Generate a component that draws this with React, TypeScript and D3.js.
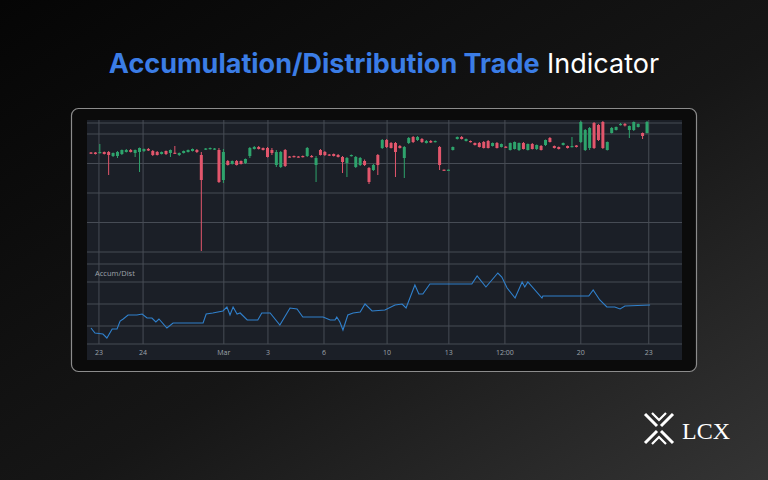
import * as d3 from 'd3'

// candles: open, high, low, close (arbitrary price units)
const candles: [number, number, number, number][] = [
  [99.5, 100, 98, 98.5], [99.5, 100, 97.5, 98], [99, 108, 98.5, 100], [100, 100.5, 97.5, 98],
  [100, 101, 77, 97], [96, 99.5, 95, 99], [96, 101, 94, 100], [98, 102.5, 97, 102],
  [100, 103, 99.5, 102], [102, 103, 99.5, 100], [99, 102.5, 95, 102], [100, 104.5, 80, 104],
  [101, 103.5, 100, 103], [103, 104, 101, 101.5], [101, 102, 96, 97], [100, 101, 96.5, 97],
  [98, 100.5, 97.5, 100], [101, 101.5, 97, 98], [99, 102.5, 95, 102], [99.3, 106, 98, 98.7],
  [97, 99.5, 96, 99], [99, 101.5, 98.5, 101], [100, 102.5, 99.5, 102], [101, 103.5, 100.5, 103],
  [102, 103, 99, 100], [97, 100, 1, 72], [102.5, 104, 102, 103.5], [103, 104.5, 102.5, 104],
  [102.5, 104, 102, 103.5], [102, 104, 69, 70], [72, 103, 69, 100], [91, 92, 86.5, 87],
  [88, 91.5, 87.5, 91], [91, 92, 86.5, 87], [91, 91.5, 87.5, 88], [89, 93.5, 88, 93],
  [96, 105, 94, 104], [103, 106, 102.5, 105], [105, 106, 102.5, 103], [104, 104.5, 101.5, 102],
  [104, 105, 94.5, 95], [102, 104, 97, 99], [87, 102, 85, 100], [85, 101, 84, 100],
  [102, 103, 85, 86], [95.5, 96, 94.5, 95], [96, 96.5, 94.5, 95], [95.5, 96, 94.5, 95],
  [96, 96.5, 94.5, 95], [96, 105, 95, 104], [96, 97, 94.5, 95], [87, 96, 70, 94],
  [102, 103, 96.5, 97], [100, 101, 96, 97], [97.5, 98, 96, 96.5], [98, 98.5, 95.5, 96],
  [97, 98, 94.5, 95], [95, 96, 79, 90], [89, 95, 75, 94], [96, 97.5, 95.5, 97],
  [85, 96, 84, 95], [87, 95, 86, 94], [91, 92.5, 86, 87], [84, 85, 68, 70],
  [82, 88, 81, 87], [97, 98, 77, 87], [104, 113, 103, 112], [112, 113, 104, 105],
  [109, 110, 103.5, 104], [109, 110, 75, 100], [106, 107, 103.5, 104], [94, 106, 74, 105],
  [109, 115, 108, 114], [115, 116, 109, 110], [112, 116, 111, 115], [113, 114, 109, 110],
  [109, 112, 108.5, 111], [111, 112, 109, 109.5], [110, 111.5, 109.5, 111], [105, 106, 82, 87],
  [82.3, 82.5, 81.5, 82], [82, 82.5, 81.5, 82.3], [102, 105.5, 101.5, 105], [113, 115.5, 112.5, 115],
  [115, 116, 112.5, 113], [111, 113.5, 110.5, 113], [111, 111.5, 109.5, 110], [109, 109.5, 106.5, 107],
  [109, 110, 104.5, 105], [110, 111, 103.5, 104], [111, 112, 103.5, 104], [106, 109.5, 105.5, 109],
  [109, 110, 103.5, 104], [105, 108.5, 104.5, 108], [105.3, 106, 104.5, 105], [102, 109.5, 101.5, 109],
  [103, 110.5, 102.5, 110], [102, 109.5, 101, 109], [109, 110, 102.5, 103], [102, 108.5, 101.5, 108],
  [108, 109, 102.5, 103], [103, 107.5, 102, 107], [106, 107, 101.5, 102], [107, 112.5, 106, 112],
  [114, 115, 109.5, 110], [106, 106.5, 103.5, 104], [105, 105.5, 102.5, 103], [107, 109.5, 106.5, 109],
  [106, 106.5, 103.5, 104], [105, 115, 104.5, 106], [106.5, 107, 104.5, 105], [110, 131, 109, 130],
  [102, 123, 101, 122], [104, 125, 102, 124], [129, 130, 103, 104], [127, 128, 111, 112],
  [130, 131, 103, 104], [102, 110.5, 101.5, 110], [119, 125, 118.5, 124], [122, 125.5, 121.5, 125],
  [127.5, 129, 126.5, 128], [128, 129, 125.5, 126.5], [122, 126.5, 114, 126], [122, 130.5, 121, 130],
  [125, 128.5, 124.5, 128], [119, 119.5, 113, 116], [119, 131, 118.5, 130],
]

// accumulation / distribution: [bar position, value]
const adPoints: [number, number][] = [
  [0, 22], [0.9, 17], [2.7, 16], [3.6, 12], [4.8, 21], [5.9, 21], [6.6, 29], [7.3, 31],
  [8.4, 35], [10.4, 35], [11.6, 36], [12.7, 32], [13.8, 32], [14.7, 28], [15.4, 31], [17.2, 22],
  [18.6, 27], [25.4, 27], [26.1, 36], [27.6, 37], [29.9, 39], [30.8, 43], [31.5, 35], [32.2, 43],
  [33.1, 36], [33.8, 37], [35.4, 30], [37.8, 30], [38.7, 37], [40.6, 37], [42.8, 25], [45.1, 42],
  [46.7, 41], [48.0, 33], [52.6, 33], [54.2, 30], [55.3, 30], [55.7, 33], [56.4, 28], [57.1, 20],
  [58.2, 35], [59.4, 37], [61.0, 38], [62.1, 46], [63.7, 39], [66.6, 40], [68.9, 45], [70.5, 46],
  [71.4, 42], [73.4, 65], [74.3, 56], [75.2, 56], [76.8, 66], [86.3, 66], [87.5, 74], [89.5, 63],
  [92.2, 77], [93.1, 73], [94.3, 62], [96.1, 52], [97.7, 68], [98.3, 63], [99.0, 68], [102.2, 52],
  [102.4, 54], [110.8, 54], [112.8, 54], [113.8, 60], [115.3, 50], [116.9, 43], [118.7, 43],
  [119.9, 41], [121.0, 44], [126.7, 45],
]

const tickPos = [1.8, 11.8, 30.1, 40.1, 52.8, 67.1, 81.1, 93.8, 111.0, 126.4]
const tickLabels = ['23', '24', 'Mar', '3', '6', '10', '13', '12:00', '20', '23']
const priceGrid = [0, 29.5, 59, 88.5, 118, 129]
const adGrid = [6, 24, 46, 68, 86]

const panel = { x: 87, y: 120, w: 595, h: 240 }
const UP = '#2ea36c'
const DOWN = '#e2566c'
const GRID = '#474c55'

export default function App() {
  const x = d3.scaleLinear().domain([0, candles.length - 1]).range([91, 647])
  const y = d3.scaleLinear().domain([0, 130]).range([252, 122])
  const yAd = d3.scaleLinear().domain([6, 86]).range([344, 264])

  const adLine = d3
    .line<[number, number]>()
    .x((d) => x(d[0]))
    .y((d) => yAd(d[1]))

  const bodyW = 3

  return (
    <svg
      width={768}
      height={480}
      style={{ position: 'fixed', left: 0, top: 0, display: 'block' }}
    >
      <defs>
        <linearGradient id="bg" x1="0" y1="0" x2="1" y2="1">
          <stop offset="0" stopColor="#050505" />
          <stop offset="0.55" stopColor="#161616" />
          <stop offset="1" stopColor="#343434" />
        </linearGradient>
        <clipPath id="pane">
          <rect x={panel.x} y={panel.y} width={panel.w} height={panel.h} />
        </clipPath>
      </defs>
      <rect width={768} height={480} fill="url(#bg)" />

      {/* title */}
      <text
        x={384}
        y={73}
        textAnchor="middle"
        fontFamily="Inter, 'Open Sans', sans-serif"
        fontSize={27}
      >
        <tspan fill="#3b7de6" fontWeight={700}>
          Accumulation/Distribution Trade
        </tspan>
        <tspan fill="#ffffff" fontWeight={400}>
          {' '}Indicator
        </tspan>
      </text>

      {/* device frame */}
      <rect
        x={71.5}
        y={108.5}
        width={625}
        height={263}
        rx={7}
        fill="#0b0b0b"
        stroke="#8c8c8c"
        strokeWidth={1.2}
      />
      <rect x={panel.x} y={panel.y} width={panel.w} height={panel.h} fill="#1b1f27" />

      <g clipPath="url(#pane)">
        {/* grid */}
        {priceGrid.map((p, i) => (
          <line key={'pg' + i} x1={panel.x} x2={panel.x + panel.w} y1={y(p)} y2={y(p)} stroke={GRID} />
        ))}
        {adGrid.map((p, i) => (
          <line key={'ag' + i} x1={panel.x} x2={panel.x + panel.w} y1={yAd(p)} y2={yAd(p)} stroke={GRID} />
        ))}
        {tickPos.map((t, i) => (
          <line key={'vg' + i} x1={x(t)} x2={x(t)} y1={panel.y} y2={yAd(6)} stroke={GRID} />
        ))}

        {/* candles */}
        {candles.map(([o, h, l, c], i) => {
          const col = c >= o ? UP : DOWN
          const cx = x(i)
          const top = y(Math.max(o, c))
          const bot = y(Math.min(o, c))
          return (
            <g key={'c' + i}>
              <line x1={cx} x2={cx} y1={y(h)} y2={y(l)} stroke={col} strokeWidth={1} />
              <rect
                x={cx - bodyW / 2}
                y={top}
                width={bodyW}
                height={Math.max(1.2, bot - top)}
                fill={col}
              />
            </g>
          )
        })}

        {/* indicator */}
        <text
          x={95}
          y={276}
          fill="#9ea3ab"
          fontSize={7.5}
          fontFamily="'Open Sans', sans-serif"
        >
          Accum/Dist
        </text>
        <path d={adLine(adPoints) ?? ''} fill="none" stroke="#3080cc" strokeWidth={1.1} />

        {tickLabels.map((l, i) => (
          <text
            key={'tl' + i}
            x={x(tickPos[i])}
            y={355}
            textAnchor="middle"
            fill="#9ea3ab"
            fontSize={7}
            fontFamily="'Open Sans', sans-serif"
          >
            {l}
          </text>
        ))}
      </g>

      {/* logo */}
      <g stroke="#ffffff" strokeWidth={3} fill="none" strokeLinecap="butt">
        <polyline points="645,414 657,426" />
        <polyline points="673,414 661,426" />
        <polyline points="645,443 657,431" />
        <polyline points="673,443 661,431" />
        <polyline points="652,413 659,420 666,413" strokeWidth={2.2} />
        <polyline points="652,444 659,437 666,444" strokeWidth={2.2} />
      </g>
      <text
        x={682}
        y={439}
        fill="#ffffff"
        fontSize={24}
        fontFamily="'Liberation Serif', 'DejaVu Serif', serif"
      >
        LCX
      </text>
    </svg>
  )
}
